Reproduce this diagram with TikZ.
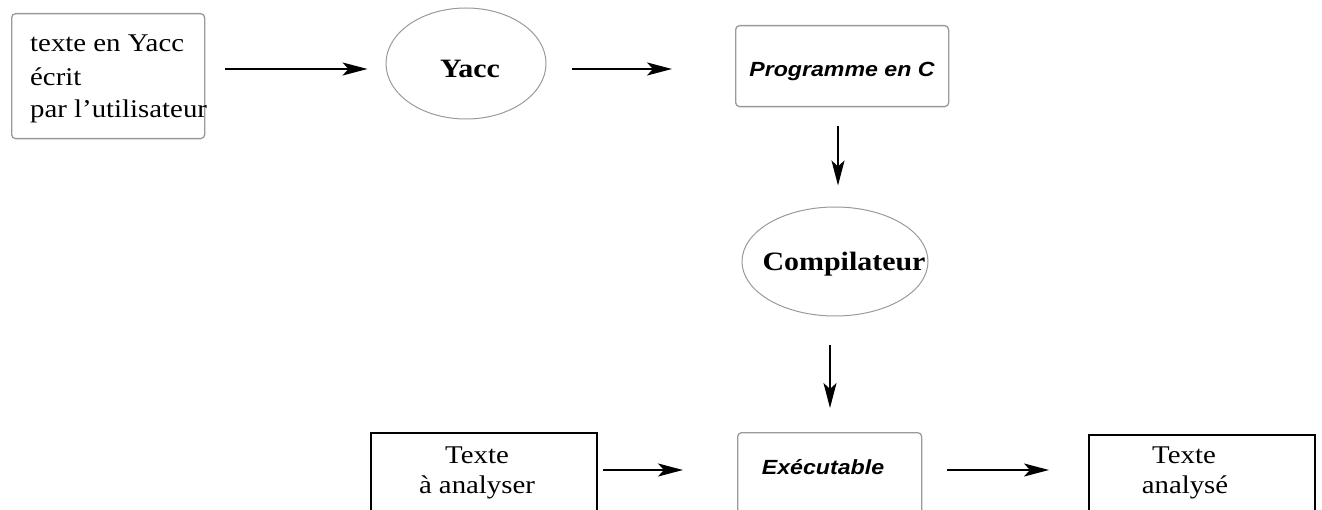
\documentclass[tikz,border=0pt]{standalone}
\usepackage{fontspec}
\setmainfont{Liberation Serif}[FakeStretch=1.13]
\setsansfont{Liberation Sans}[FakeStretch=1.13]
\usetikzlibrary{arrows.meta,shapes.geometric}
\definecolor{bordergray}{HTML}{9A9A9A}
\tikzset{
  arr/.style={line width=2pt, -{Stealth[length=25pt,width=13pt,inset=6pt]}},
  rbox/.style={draw=bordergray, line width=1.3pt, rounded corners=4pt, rectangle, inner sep=0pt, anchor=north west},
  sbox/.style={draw=black, line width=1.8pt, rectangle, inner sep=0pt, anchor=north west},
  ell/.style={draw=bordergray, line width=1pt, ellipse, inner sep=0pt},
  serif/.style={font=\fontsize{25.5}{30}\selectfont, inner sep=0pt},
  serifb/.style={font=\fontsize{26.5}{30}\selectfont\bfseries, inner sep=0pt},
  sansbi/.style={font=\fontsize{20.5}{24}\selectfont\sffamily\bfseries\itshape, inner sep=0pt},
}
\begin{document}
\begin{tikzpicture}[x=1pt,y=-1pt]
\useasboundingbox (0,0) rectangle (1322,510);
\clip (0,0) rectangle (1322,510);
% top-left box
\node[rbox, minimum width=193pt, minimum height=125pt] (src) at (11,13) {};
\node[serif, anchor=base west] (l1) at (30,52) {texte en Yacc};
\node[serif, anchor=base west] (l2) at (30,86) {écrit};
\node[serif, anchor=base west] (l3) at (30,118) {par l’utilisateur};
% Yacc
\node[ell, minimum width=160pt, minimum height=111pt] (yacc) at (466,63.5) {};
\node[serifb, anchor=base] (yacct) at (470,78) {Yacc};
% Programme en C
\node[rbox, minimum width=213pt, minimum height=81pt] (prog) at (735,25) {};
\node[sansbi, anchor=base] (progt) at (842,77) {Programme en C};
% Compilateur
\node[ell, minimum width=186pt, minimum height=109pt] (comp) at (835,261.5) {};
\node[serifb, anchor=base] (compt) at (844,271) {Compilateur};
% bottom row
\node[sbox, minimum width=226pt, minimum height=110pt] (tin) at (370,432) {};
\node[serif, anchor=base] (tin1) at (477,463) {Texte};
\node[serif, anchor=base] (tin2) at (477,493) {à analyser};
\node[rbox, minimum width=184pt, minimum height=110pt] (exe) at (737,432) {};
\node[sansbi, anchor=base] (exet) at (823,474) {Exécutable};
\node[sbox, minimum width=226pt, minimum height=110pt] (tout) at (1088,434) {};
\node[serif, anchor=base] (tout1) at (1184,463) {Texte};
\node[serif, anchor=base] (tout2) at (1185,493) {analysé};
% connectors
\draw[arr] ([xshift=20pt]src.east |- 0,69) -- ([xshift=-18pt]yacc.west |- 0,69);
\draw[arr] ([xshift=25pt]yacc.east |- 0,69) -- ([xshift=-63pt]prog.west |- 0,69);
\draw[arr] ([yshift=-19pt]prog.south -| 838,0) -- ([yshift=21pt]comp.north -| 838,0);
\draw[arr] ([yshift=-29pt]comp.south -| 830,0) -- ([yshift=24pt]exe.north -| 830,0);
\draw[arr] ([xshift=5pt]tin.east |- 0,470) -- ([xshift=-54pt]exe.west |- 0,470);
\draw[arr] ([xshift=25pt]exe.east |- 0,470) -- ([xshift=-39pt]tout.west |- 0,470);
\end{tikzpicture}
\end{document}
